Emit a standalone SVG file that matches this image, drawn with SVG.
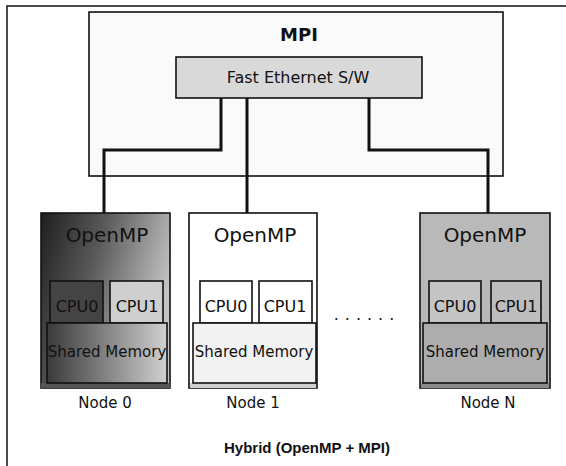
<svg xmlns="http://www.w3.org/2000/svg" width="566" height="466" viewBox="0 0 566 466">
<defs>
<style>
.box{stroke:#111;stroke-width:1.6;}
.t{font-family:"DejaVu Sans",sans-serif;fill:#111;text-anchor:middle;}
.omp{font-size:20px;}
.cpu{font-size:16px;}
.sm{font-size:15px;}
.lbl{font-size:15px;}
.conn{fill:none;stroke:#111;stroke-width:3;}
</style>
<linearGradient id="g0" x1="0" y1="0" x2="1" y2="0.4">
<stop offset="0" stop-color="#1e1e1e"/>
<stop offset="0.45" stop-color="#5a5a5a"/>
<stop offset="1" stop-color="#c4c4c4"/>
</linearGradient>
<linearGradient id="g0b" x1="0" y1="0" x2="1" y2="0">
<stop offset="0" stop-color="#3a3a3a"/>
<stop offset="1" stop-color="#d0d0d0"/>
</linearGradient>
</defs>
<rect width="566" height="466" fill="#fff"/>
<rect x="7" y="6" width="600" height="500" fill="none" stroke="#111" stroke-width="1.5"/>

<g id="mpi">
<rect class="box" x="89" y="12" width="414" height="164" fill="#fafafa"/>
<text class="t" x="299" y="41" style="font-size:18px;font-weight:bold">MPI</text>
</g>

<g id="switch">
<rect class="box" x="176" y="57" width="246" height="41" fill="#d9d9d9"/>
<text class="t" x="298" y="83" style="font-size:16px">Fast Ethernet S/W</text>
</g>

<g id="connectors">
<polyline class="conn" points="221,98 221,150 104,150 104,213"/>
<polyline class="conn" points="247,98 247,213"/>
<polyline class="conn" points="369,98 369,150 488,150 488,213"/>
</g>

<g id="node0">
<rect class="box" x="41" y="213" width="129" height="175" fill="url(#g0)"/>
<rect x="41" y="383" width="129" height="5" fill="#555"/>
<text class="t omp" x="107" y="242">OpenMP</text>
<rect class="box" x="50" y="281" width="53" height="42" fill="#444"/>
<rect class="box" x="110" y="281" width="53" height="42" fill="#cfcfcf"/>
<text class="t cpu" x="77" y="312">CPU0</text>
<text class="t cpu" x="137" y="312">CPU1</text>
<rect class="box" x="47" y="323" width="120" height="60" fill="url(#g0b)"/>
<text class="t sm" x="107" y="357">Shared Memory</text>
<text class="t lbl" x="105" y="408">Node 0</text>
</g>

<g id="node1">
<rect class="box" x="189" y="213" width="128" height="175" fill="#fff"/>
<rect x="190" y="383" width="126" height="5" fill="#cfcfcf"/>
<text class="t omp" x="255" y="242">OpenMP</text>
<rect class="box" x="200" y="281" width="52" height="42" fill="#fff"/>
<rect class="box" x="259" y="281" width="53" height="42" fill="#fff"/>
<text class="t cpu" x="226" y="312">CPU0</text>
<text class="t cpu" x="285" y="312">CPU1</text>
<rect class="box" x="193" y="323" width="123" height="60" fill="#f2f2f2"/>
<text class="t sm" x="254" y="357">Shared Memory</text>
<text class="t lbl" x="253" y="408">Node 1</text>
</g>

<text class="t" x="367" y="320" style="font-size:16px;letter-spacing:6px">......</text>

<g id="nodeN">
<rect class="box" x="420" y="213" width="130" height="175" fill="#b9b9b9"/>
<rect x="421" y="383" width="128" height="5" fill="#8a8a8a"/>
<text class="t omp" x="485" y="242">OpenMP</text>
<rect class="box" x="429" y="281" width="52" height="42" fill="#c4c4c4"/>
<rect class="box" x="491" y="281" width="50" height="42" fill="#bdbdbd"/>
<text class="t cpu" x="455" y="312">CPU0</text>
<text class="t cpu" x="516" y="312">CPU1</text>
<rect class="box" x="423" y="323" width="124" height="60" fill="#adadad"/>
<text class="t sm" x="485" y="357">Shared Memory</text>
<text class="t lbl" x="488" y="408">Node N</text>
</g>

<text x="307" y="453" style="font-family:'Liberation Sans',Arial,sans-serif;font-size:15px;font-weight:bold;text-anchor:middle;fill:#111">Hybrid (OpenMP + MPI)</text>
</svg>
